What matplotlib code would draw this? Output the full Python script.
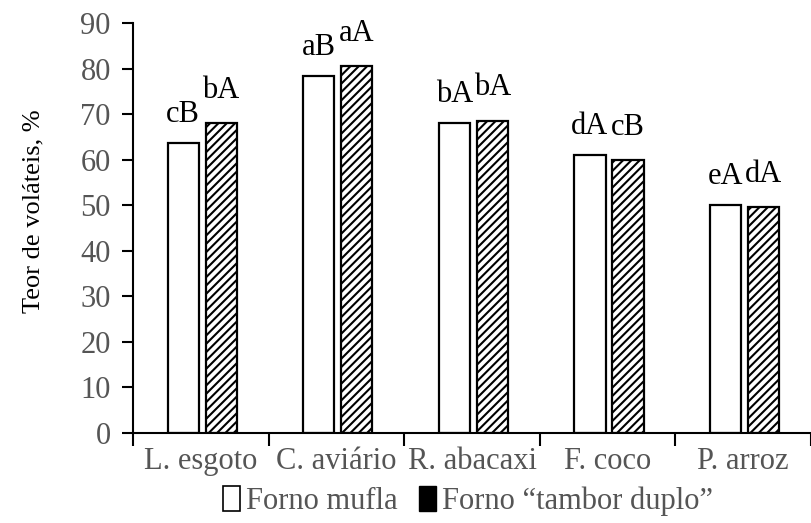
import matplotlib.pyplot as plt
from matplotlib.patches import Patch
import numpy as np

plt.rcParams['font.family'] = ['Liberation Serif', 'DejaVu Serif']
plt.rcParams['hatch.linewidth'] = 1.5

categorias = ["L. esgoto", "C. aviário", "R. abacaxi", "F. coco", "P. arroz"]
mufla = [63.7, 78.4, 68.0, 61.0, 50.0]
tambor = [68.0, 80.6, 68.6, 59.9, 49.7]
letras_mufla = ["cB", "aB", "bA", "dA", "eA"]
letras_tambor = ["bA", "aA", "bA", "cB", "dA"]

cinza = "#555555"
x = np.arange(len(categorias))
larg = 0.23

fig = plt.figure(figsize=(8.11, 5.23), dpi=100)
ax = fig.add_axes([0.164, 0.172, 0.836, 0.784])

ax.bar(x - 0.13, mufla, larg, color="white", edgecolor="black", linewidth=1.6)
ax.bar(x + 0.15, tambor, larg, color="white", edgecolor="black", linewidth=1.6, hatch="////")

for xi, v, t in zip(x - 0.13, mufla, letras_mufla):
    ax.annotate(t, (xi, v), xytext=(0, 10), textcoords="offset points",
                ha="center", va="bottom", fontsize=22)
for xi, v, t in zip(x + 0.15, tambor, letras_tambor):
    ax.annotate(t, (xi, v), xytext=(0, 13), textcoords="offset points",
                ha="center", va="bottom", fontsize=22)

ax.set_xlim(-0.5, 4.45)
ax.set_ylim(0, 90)
ax.set_yticks(np.arange(0, 91, 10))
ax.set_xticks(x)
ax.set_xticklabels(categorias)
ax.set_xticks(np.arange(-0.5, 5, 1), minor=True)
ax.tick_params(axis="x", which="major", length=0, pad=10, labelsize=22, labelcolor=cinza)
ax.tick_params(axis="x", which="minor", length=9, width=1.5, direction="out")
ax.tick_params(axis="y", length=8, width=1.5, direction="out", labelsize=22, labelcolor=cinza, pad=8)

for s in ["top", "right"]:
    ax.spines[s].set_visible(False)
ax.spines["left"].set_linewidth(1.5)
ax.spines["bottom"].set_linewidth(1.5)

ax.set_ylabel("Teor de voláteis, %", fontsize=19, labelpad=12)
ax.yaxis.set_label_coords(-0.13, 0.54)

handles = [Patch(facecolor="white", edgecolor="black", linewidth=1.2),
           Patch(facecolor="black", edgecolor="black")]
leg = fig.legend(handles, ["Forno mufla", "Forno \u201ctambor duplo\u201d"], ncol=2,
                 loc="center", bbox_to_anchor=(0.577, 0.042), frameon=False,
                 fontsize=22, handlelength=0.55, handleheight=0.85, handletextpad=0.2,
                 columnspacing=0.7)
for t in leg.get_texts():
    t.set_color(cinza)

fig.savefig("out.png", dpi=100)
